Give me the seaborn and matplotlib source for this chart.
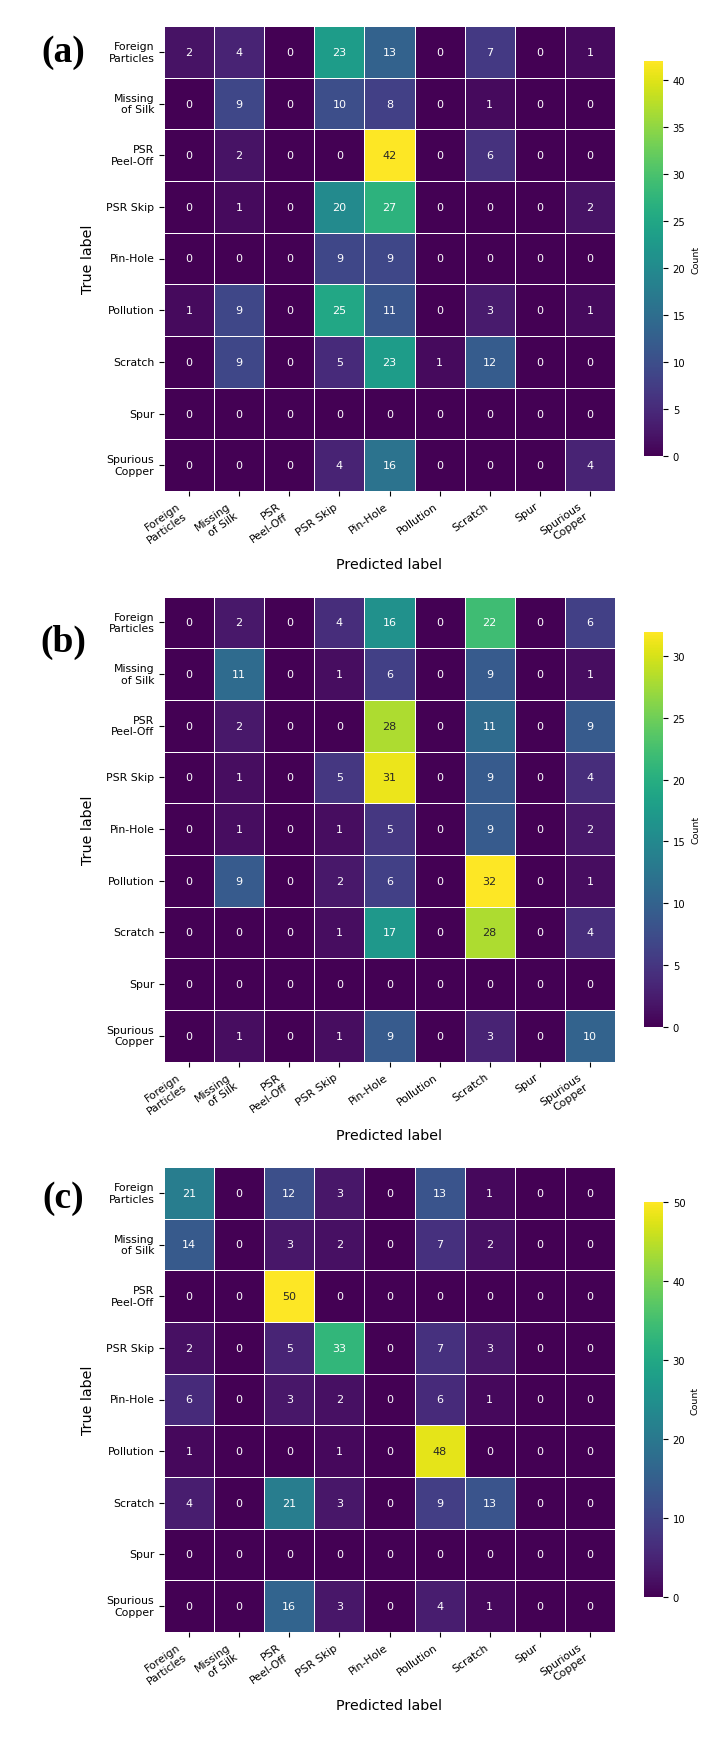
import numpy as np
import matplotlib
matplotlib.use("Agg")
import matplotlib.pyplot as plt
import seaborn as sns

# class names
labels = ['Foreign\nParticles', 'Missing\nof Silk', 'PSR\nPeel-Off', 'PSR Skip',
          'Pin-Hole', 'Pollution', 'Scratch', 'Spur', 'Spurious\nCopper']

# confusion matrices (rows = true, cols = predicted)
cm_a = [[2, 4, 0, 23, 13, 0, 7, 0, 1],
        [0, 9, 0, 10, 8, 0, 1, 0, 0],
        [0, 2, 0, 0, 42, 0, 6, 0, 0],
        [0, 1, 0, 20, 27, 0, 0, 0, 2],
        [0, 0, 0, 9, 9, 0, 0, 0, 0],
        [1, 9, 0, 25, 11, 0, 3, 0, 1],
        [0, 9, 0, 5, 23, 1, 12, 0, 0],
        [0, 0, 0, 0, 0, 0, 0, 0, 0],
        [0, 0, 0, 4, 16, 0, 0, 0, 4]]

cm_b = [[0, 2, 0, 4, 16, 0, 22, 0, 6],
        [0, 11, 0, 1, 6, 0, 9, 0, 1],
        [0, 2, 0, 0, 28, 0, 11, 0, 9],
        [0, 1, 0, 5, 31, 0, 9, 0, 4],
        [0, 1, 0, 1, 5, 0, 9, 0, 2],
        [0, 9, 0, 2, 6, 0, 32, 0, 1],
        [0, 0, 0, 1, 17, 0, 28, 0, 4],
        [0, 0, 0, 0, 0, 0, 0, 0, 0],
        [0, 1, 0, 1, 9, 0, 3, 0, 10]]

cm_c = [[21, 0, 12, 3, 0, 13, 1, 0, 0],
        [14, 0, 3, 2, 0, 7, 2, 0, 0],
        [0, 0, 50, 0, 0, 0, 0, 0, 0],
        [2, 0, 5, 33, 0, 7, 3, 0, 0],
        [6, 0, 3, 2, 0, 6, 1, 0, 0],
        [1, 0, 0, 1, 0, 48, 0, 0, 0],
        [4, 0, 21, 3, 0, 9, 13, 0, 0],
        [0, 0, 0, 0, 0, 0, 0, 0, 0],
        [0, 0, 16, 3, 0, 4, 1, 0, 0]]

panels = ['(a)', '(b)', '(c)']
cbar_ticks = [np.arange(0, 45, 5), np.arange(0, 35, 5), np.arange(0, 60, 10)]
tag_offset = [26, 45, 31]

W, H = 724, 1740
fig = plt.figure(figsize=(W / 100, H / 100), dpi=100)

for i, cm in enumerate([cm_a, cm_b, cm_c]):
    top = 27 + 570.5 * i
    ax = fig.add_axes([164 / W, 1 - (top + 465) / H, 451 / W, 465 / H])
    cax = fig.add_axes([644 / W, 1 - (top + 430) / H, 19 / W, 395 / H])
    sns.heatmap(np.array(cm), annot=True, fmt='d', cmap='viridis',
                linewidths=0.6, linecolor='white',
                xticklabels=labels, yticklabels=labels,
                annot_kws={'size': 8}, ax=ax, cbar_ax=cax,
                cbar_kws={'label': 'Count', 'ticks': cbar_ticks[i]})
    ax.tick_params(axis='both', labelsize=7.8)
    plt.setp(ax.get_xticklabels(), rotation=35, ha='right')
    plt.setp(ax.get_yticklabels(), rotation=0)
    ax.set_xlabel('Predicted label', fontsize=10.3)
    ax.set_ylabel('True label', fontsize=10.3)
    ax.xaxis.set_label_coords(0.5, -66 / 465)
    ax.yaxis.set_label_coords(-69 / 451, 0.5)
    cax.tick_params(labelsize=7.2)
    cax.yaxis.label.set_size(6.8)
    fig.text(63 / W, 1 - (top + tag_offset[i]) / H, panels[i],
             family='Liberation Serif', weight='bold', fontsize=27,
             ha='center', va='center')

fig.savefig('out.png', dpi=100)
